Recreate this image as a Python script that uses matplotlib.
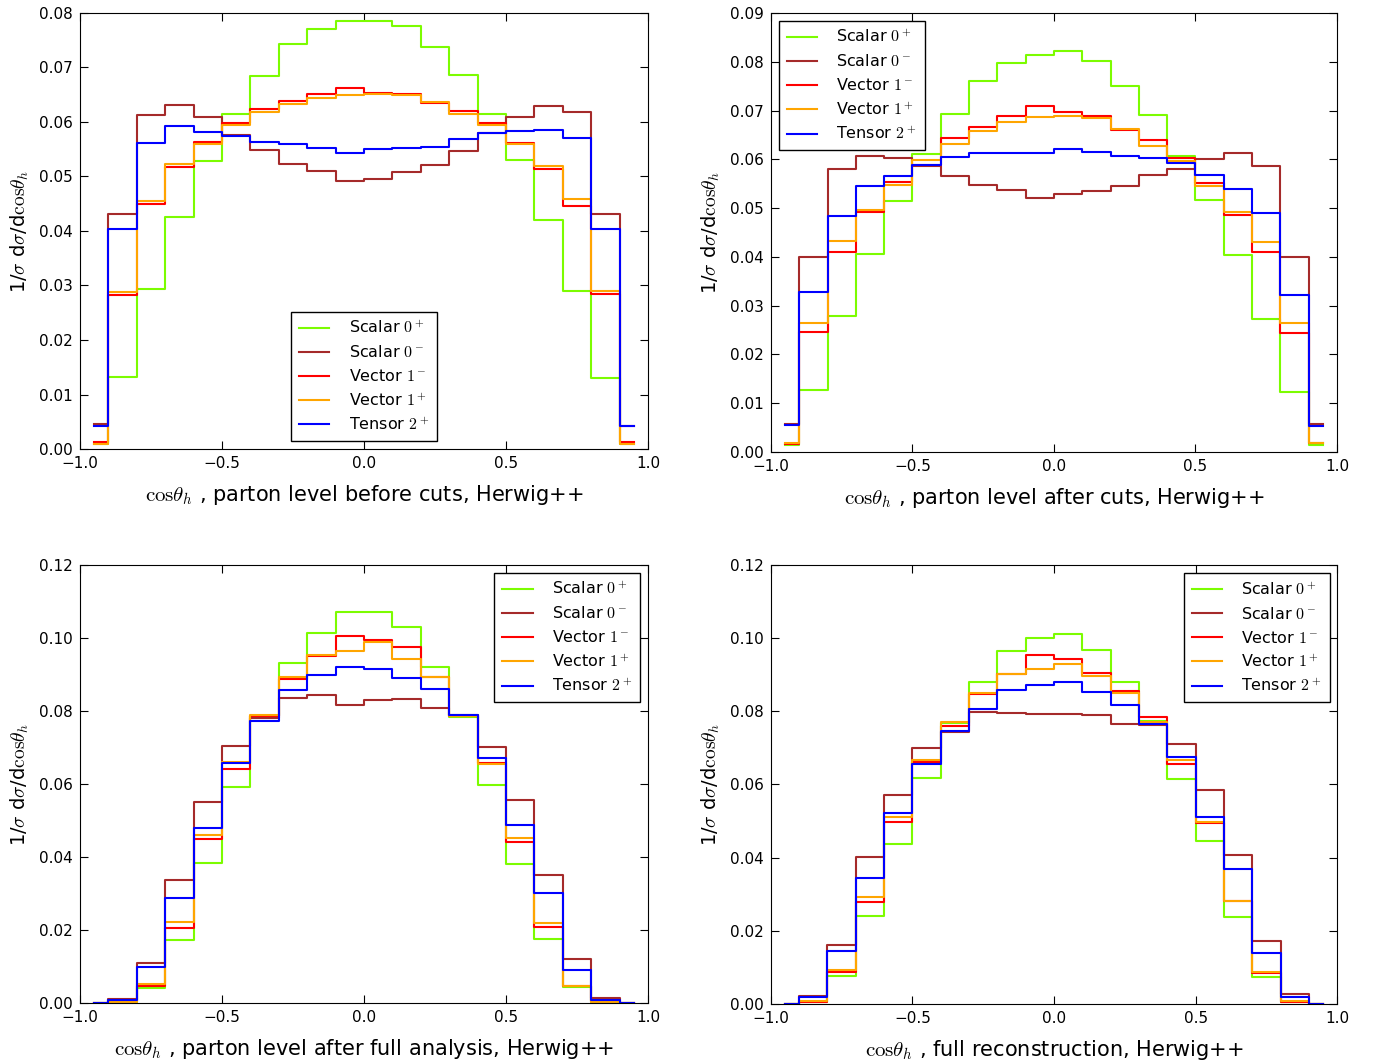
import numpy as np
import matplotlib
matplotlib.use("Agg")
import matplotlib.pyplot as plt

plt.rcParams['mathtext.fontset'] = 'cm'
plt.rcParams['xtick.direction'] = 'in'
plt.rcParams['ytick.direction'] = 'in'
plt.rcParams['xtick.top'] = True
plt.rcParams['ytick.right'] = True
plt.rcParams['xtick.major.size'] = 6
plt.rcParams['ytick.major.size'] = 6

# bin centres (first/last bins are drawn half width by step 'mid')
centres = np.round(np.arange(-0.95, 0.96, 0.1), 2)

labels = [r"Scalar $0^+$", r"Scalar $0^-$", r"Vector $1^-$", r"Vector $1^+$", r"Tensor $2^+$"]
colors = ["lawngreen", "brown", "red", "orange", "blue"]

# panel 1: parton level before cuts
p1_scalar_p = [0.0010, 0.0133, 0.0294, 0.0426, 0.0529, 0.0615, 0.0684, 0.0743, 0.0770, 0.0786,
               0.0786, 0.0776, 0.0737, 0.0687, 0.0615, 0.0531, 0.0420, 0.0290, 0.0130, 0.0010]
p1_scalar_m = [0.0045, 0.0432, 0.0613, 0.0632, 0.0610, 0.0576, 0.0548, 0.0523, 0.0510, 0.0491,
               0.0496, 0.0508, 0.0522, 0.0547, 0.0580, 0.0610, 0.0630, 0.0618, 0.0431, 0.0043]
p1_vector_m = [0.0012, 0.0282, 0.0450, 0.0517, 0.0564, 0.0598, 0.0624, 0.0638, 0.0651, 0.0663,
               0.0654, 0.0651, 0.0635, 0.0621, 0.0598, 0.0562, 0.0513, 0.0446, 0.0284, 0.0012]
p1_vector_p = [0.0010, 0.0288, 0.0455, 0.0523, 0.0560, 0.0595, 0.0618, 0.0633, 0.0644, 0.0650,
               0.0651, 0.0649, 0.0636, 0.0615, 0.0595, 0.0560, 0.0520, 0.0458, 0.0290, 0.0010]
p1_tensor_p = [0.0043, 0.0404, 0.0561, 0.0592, 0.0581, 0.0575, 0.0563, 0.0560, 0.0553, 0.0544,
               0.0550, 0.0553, 0.0555, 0.0569, 0.0580, 0.0584, 0.0586, 0.0570, 0.0403, 0.0042]

# panel 2: parton level after cuts
p2_scalar_p = [0.0014, 0.0128, 0.0279, 0.0406, 0.0515, 0.0611, 0.0692, 0.0761, 0.0798, 0.0814,
               0.0823, 0.0802, 0.0750, 0.0691, 0.0606, 0.0517, 0.0403, 0.0273, 0.0124, 0.0015]
p2_scalar_m = [0.0058, 0.0400, 0.0580, 0.0606, 0.0603, 0.0586, 0.0565, 0.0548, 0.0537, 0.0520,
               0.0528, 0.0535, 0.0545, 0.0567, 0.0581, 0.0601, 0.0613, 0.0586, 0.0400, 0.0057]
p2_vector_m = [0.0016, 0.0246, 0.0411, 0.0491, 0.0553, 0.0589, 0.0643, 0.0667, 0.0688, 0.0709,
               0.0696, 0.0688, 0.0660, 0.0640, 0.0602, 0.0552, 0.0486, 0.0409, 0.0244, 0.0018]
p2_vector_p = [0.0019, 0.0264, 0.0432, 0.0496, 0.0548, 0.0599, 0.0632, 0.0659, 0.0676, 0.0687,
               0.0689, 0.0685, 0.0663, 0.0627, 0.0597, 0.0545, 0.0493, 0.0431, 0.0265, 0.0018]
p2_tensor_p = [0.0055, 0.0327, 0.0483, 0.0545, 0.0565, 0.0589, 0.0604, 0.0613, 0.0612, 0.0612,
               0.0621, 0.0616, 0.0606, 0.0602, 0.0593, 0.0568, 0.0540, 0.0489, 0.0321, 0.0053]

# panel 3: parton level after full analysis
p3_scalar_p = [0.0000, 0.0003, 0.0041, 0.0173, 0.0383, 0.0593, 0.0785, 0.0932, 0.1013, 0.1071,
               0.1071, 0.1029, 0.0921, 0.0783, 0.0596, 0.0380, 0.0175, 0.0043, 0.0003, 0.0000]
p3_scalar_m = [0.0000, 0.0012, 0.0110, 0.0338, 0.0551, 0.0704, 0.0780, 0.0836, 0.0844, 0.0816,
               0.0830, 0.0832, 0.0808, 0.0788, 0.0702, 0.0557, 0.0352, 0.0121, 0.0013, 0.0000]
p3_vector_m = [0.0000, 0.0005, 0.0048, 0.0206, 0.0448, 0.0642, 0.0785, 0.0889, 0.0952, 0.1005,
               0.0995, 0.0974, 0.0894, 0.0786, 0.0657, 0.0441, 0.0209, 0.0047, 0.0005, 0.0000]
p3_vector_p = [0.0000, 0.0004, 0.0052, 0.0221, 0.0461, 0.0661, 0.0789, 0.0893, 0.0953, 0.0963,
               0.0989, 0.0943, 0.0894, 0.0785, 0.0656, 0.0453, 0.0218, 0.0048, 0.0004, 0.0000]
p3_tensor_p = [0.0000, 0.0007, 0.0099, 0.0288, 0.0479, 0.0657, 0.0773, 0.0858, 0.0899, 0.0920,
               0.0916, 0.0890, 0.0861, 0.0788, 0.0670, 0.0488, 0.0302, 0.0090, 0.0009, 0.0000]

# panel 4: full reconstruction
p4_scalar_p = [0.0000, 0.0005, 0.0077, 0.0241, 0.0438, 0.0617, 0.0769, 0.0880, 0.0965, 0.1000,
               0.1012, 0.0968, 0.0880, 0.0773, 0.0614, 0.0446, 0.0237, 0.0074, 0.0005, 0.0000]
p4_scalar_m = [0.0000, 0.0022, 0.0161, 0.0401, 0.0570, 0.0699, 0.0743, 0.0799, 0.0796, 0.0794,
               0.0794, 0.0789, 0.0766, 0.0764, 0.0710, 0.0586, 0.0407, 0.0171, 0.0026, 0.0000]
p4_vector_m = [0.0000, 0.0005, 0.0087, 0.0277, 0.0497, 0.0661, 0.0759, 0.0849, 0.0903, 0.0954,
               0.0943, 0.0905, 0.0855, 0.0785, 0.0656, 0.0495, 0.0282, 0.0083, 0.0005, 0.0000]
p4_vector_p = [0.0000, 0.0008, 0.0093, 0.0292, 0.0510, 0.0666, 0.0772, 0.0850, 0.0903, 0.0916,
               0.0929, 0.0898, 0.0851, 0.0771, 0.0666, 0.0497, 0.0282, 0.0086, 0.0008, 0.0000]
p4_tensor_p = [0.0000, 0.0019, 0.0143, 0.0345, 0.0521, 0.0657, 0.0747, 0.0806, 0.0859, 0.0871,
               0.0880, 0.0854, 0.0818, 0.0765, 0.0675, 0.0510, 0.0370, 0.0140, 0.0019, 0.0000]

panels = [
    ([p1_scalar_p, p1_scalar_m, p1_vector_m, p1_vector_p, p1_tensor_p],
     r"$\mathrm{cos}\theta_h$ , parton level before cuts, Herwig++", 0.08, 'lower center'),
    ([p2_scalar_p, p2_scalar_m, p2_vector_m, p2_vector_p, p2_tensor_p],
     r"$\mathrm{cos}\theta_h$ , parton level after cuts, Herwig++", 0.09, 'upper left'),
    ([p3_scalar_p, p3_scalar_m, p3_vector_m, p3_vector_p, p3_tensor_p],
     r"$\mathrm{cos}\theta_h$ , parton level after full analysis, Herwig++", 0.12, 'upper right'),
    ([p4_scalar_p, p4_scalar_m, p4_vector_m, p4_vector_p, p4_tensor_p],
     r"$\mathrm{cos}\theta_h$ , full reconstruction, Herwig++", 0.12, 'upper right'),
]

# axes rectangles (left, bottom, width, height)
rects = [[0.058, 0.578, 0.4116, 0.4098],
         [0.5587, 0.5752, 0.4101, 0.4126],
         [0.058, 0.0573, 0.4116, 0.4117],
         [0.5585, 0.0567, 0.4107, 0.4120]]

fig = plt.figure(figsize=(13.8, 10.64), dpi=100)

for (series, xlab, ymax, loc), rect in zip(panels, rects):
    ax = fig.add_axes(rect)
    for vals, lab, col in zip(series, labels, colors):
        ax.step(centres, vals, where='mid', color=col, lw=1.5, label=lab)
    ax.set_xlim(-1.0, 1.0)
    ax.set_ylim(0, ymax)
    ax.set_xticks([-1.0, -0.5, 0.0, 0.5, 1.0])
    ax.set_xticklabels(["\u22121.0", "\u22120.5", "0.0", "0.5", "1.0"])
    ax.set_yticks(np.arange(0, ymax + 0.001, 0.01 if ymax < 0.1 else 0.02))
    ax.yaxis.set_major_formatter(matplotlib.ticker.FormatStrFormatter('%.2f'))
    ax.tick_params(labelsize=11, pad=5)
    ax.set_xlabel(xlab, fontsize=15, labelpad=9)
    ax.set_ylabel(r"1/$\sigma$ d$\sigma$/d$\mathrm{cos}\theta_h$", fontsize=14, labelpad=6)
    leg = ax.legend(loc=loc, fontsize=11.5, fancybox=False, framealpha=1,
                    edgecolor='black', handlelength=1.9, handletextpad=1.2,
                    labelspacing=0.5, borderpad=0.5)
    leg.get_frame().set_linewidth(1.0)

fig.savefig("out.png", dpi=100)
